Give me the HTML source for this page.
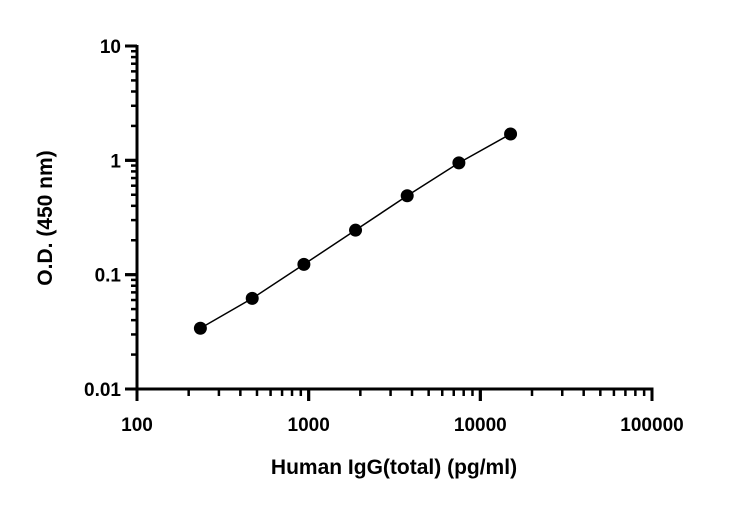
<!DOCTYPE html>
<html><head><meta charset="utf-8"><style>
body{margin:0;background:#fff;}
svg text{font-family:"Liberation Sans",Arial,sans-serif;font-weight:bold;fill:#000;}
</style></head><body>
<svg id="chart" width="732" height="506" viewBox="0 0 732 506" xmlns="http://www.w3.org/2000/svg">
<g id="axes"></g>
<g id="marks"></g>
<text x="394" y="474" font-size="21" text-anchor="middle">Human IgG(total) (pg/ml)</text>
<text transform="translate(52,218) rotate(-90)" font-size="21" text-anchor="middle">O.D. (450 nm)</text>
</svg>
<script>
const concentrations=[234,469,938,1875,3750,7500,15000];
const odValues=[0.034,0.062,0.123,0.245,0.49,0.95,1.7];
const xTickValues=[100,1000,10000,100000];
const xTickLabels=["100","1000","10000","100000"];
const yTickValues=[0.01,0.1,1,10];
const yTickLabels=["0.01","0.1","1","10"];
const NS="http://www.w3.org/2000/svg";
const X0=137,X1=652,Y0=389,Y1=46;
function xs(v){return X0+(Math.log10(v)-2)/3*(X1-X0);}
function ys(v){return Y0-(Math.log10(v)+2)/3*(Y0-Y1);}
function mk(tag,attrs,parent){const e=document.createElementNS(NS,tag);for(const k in attrs)e.setAttribute(k,attrs[k]);parent.appendChild(e);return e;}
const axes=document.getElementById('axes'),marks=document.getElementById('marks');
let l=mk('line',{x1:X0,y1:Y1-1,x2:X0,y2:Y0+1.5,stroke:'#000','stroke-width':3},axes);


l=mk('line',{x1:X0-12,y1:Y0,x2:X1+1.5,y2:Y0,stroke:'#000','stroke-width':3},axes);


// x ticks
for(let d=2;d<5;d++){for(let m=1;m<=10;m++){const v=m*Math.pow(10,d);const x=xs(v);const major=(m===1||m===10);
 const t=mk('line',{x1:x,y1:Y0,x2:x,y2:Y0+(major?12:7),stroke:'#000','stroke-width':major?3:2.5},axes);
 
 }}
xTickValues.forEach((v,i)=>{const t=mk('text',{x:xs(v),y:Y0+42,'font-size':19,'text-anchor':'middle'},axes);t.textContent=xTickLabels[i];
 
 });
// y ticks
for(let d=-2;d<1;d++){for(let m=1;m<=10;m++){const v=m*Math.pow(10,d);const y=ys(v);const major=(m===1||m===10);
 const t=mk('line',{x1:X0,y1:y,x2:X0-(major?12:6),y2:y,stroke:'#000','stroke-width':major?3:2.5},axes);
 
 }}
yTickValues.forEach((v,i)=>{const t=mk('text',{x:X0-16,y:ys(v)+7,'font-size':19,'text-anchor':'end'},axes);t.textContent=yTickLabels[i];
 
 });
// curve
const pts=concentrations.map((c,i)=>xs(c)+','+ys(odValues[i])).join(' ');
const pl=mk('polyline',{points:pts,fill:'none',stroke:'#000','stroke-width':1.5},marks);


concentrations.forEach((c,i)=>{const p=mk('circle',{cx:xs(c),cy:ys(odValues[i]),r:6.5,fill:'#000'},marks);
 
 });
</script>
</body></html>
